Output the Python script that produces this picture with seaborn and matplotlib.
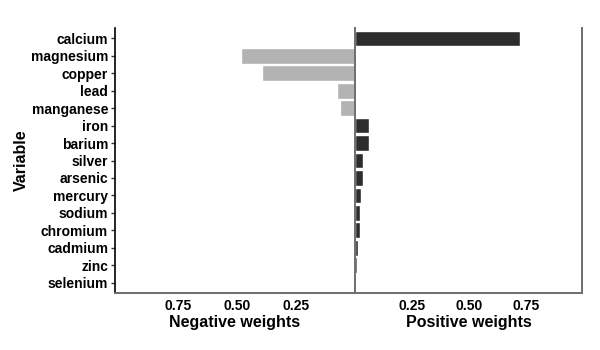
import matplotlib
matplotlib.use("Agg")
import matplotlib.pyplot as plt
import seaborn as sns
import pandas as pd

variables = ["calcium", "magnesium", "copper", "lead", "manganese", "iron", "barium",
             "silver", "arsenic", "mercury", "sodium", "chromium", "cadmium", "zinc", "selenium"]
weights = [0.724, -0.483, -0.394, -0.076, -0.064, 0.061, 0.061,
           0.035, 0.035, 0.026, 0.022, 0.022, 0.013, 0.009, 0.002]
xticks = [0.25, 0.50, 0.75]
xtick_labels = ["0.25", "0.50", "0.75"]

df = pd.DataFrame({"variable": variables, "weight": weights})
neg = df[df["weight"] < 0].assign(mag=lambda d: -d["weight"])
pos = df[df["weight"] >= 0].assign(mag=lambda d: d["weight"])

sns.set_style("white")
plt.rcParams["font.family"] = ["Liberation Sans", "DejaVu Sans"]
plt.rcParams["font.weight"] = "bold"
plt.rcParams["text.color"] = "black"
plt.rcParams["axes.labelcolor"] = "black"

fig = plt.figure(figsize=(6, 3.5), dpi=100)
L, R, B, T = 115 / 600, 582 / 600, 1 - 293 / 350, 1 - 28 / 350
mid = 355 / 600
ax1 = fig.add_axes([L, B, mid - L, T - B])
ax2 = fig.add_axes([mid, B, R - mid, T - B], sharey=ax1)

sns.barplot(data=neg, x="mag", y="variable", order=variables, orient="h",
            color="#b3b3b3", saturation=1, width=0.9, ax=ax1)
sns.barplot(data=pos, x="mag", y="variable", order=variables, orient="h",
            color="#2d2d2d", saturation=1, width=0.9, ax=ax2)

ax1.set_xlim(1.017, 0)
ax2.set_xlim(0, 0.996)
ax1.set_ylim(len(variables) - 0.4, -0.6)

grey = "#6e6e6e"
for ax in (ax1, ax2):
    ax.set_xticks(xticks)
    ax.set_xticklabels(xtick_labels, fontsize=10, fontweight="bold", color="black")
    ax.tick_params(axis="x", length=0, pad=4)
    for s in ax.spines.values():
        s.set_color(grey)
        s.set_linewidth(1.4)
    ax.spines["top"].set_visible(False)

ax1.spines["right"].set_visible(False)
ax1.spines["left"].set_color("black")
ax1.spines["left"].set_linewidth(1.2)
ax1.tick_params(axis="y", length=3, width=1, color="#333333", pad=2, left=True)
ax1.set_yticks(range(len(variables)))
ax1.set_yticklabels(variables, fontsize=10, fontweight="bold", color="black")
ax2.tick_params(axis="y", left=False, labelleft=False)

ax1.set_ylabel("Variable", fontsize=11.5, fontweight="bold", labelpad=1.5)
ax2.set_ylabel("")
ax1.set_xlabel("Negative weights", fontsize=11.5, fontweight="bold", labelpad=1.5)
ax2.set_xlabel("Positive weights", fontsize=11.5, fontweight="bold", labelpad=1.5)

fig.savefig("out.png", dpi=100)
